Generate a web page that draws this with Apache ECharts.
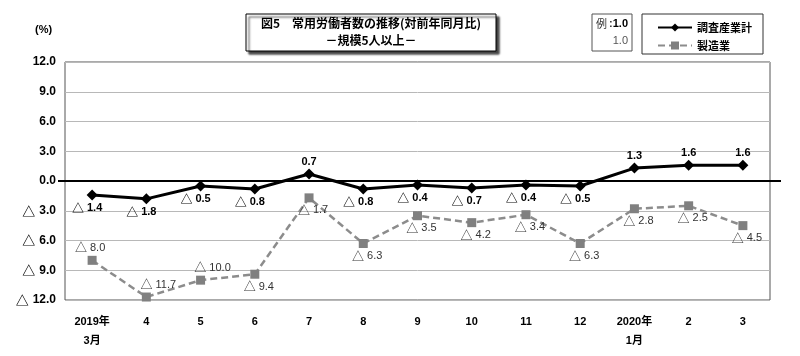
<!DOCTYPE html>
<html><head><meta charset="utf-8">
<script src="https://cdn.jsdelivr.net/npm/echarts@6/dist/echarts.min.js"></script>
<style>html,body{margin:0;padding:0;background:#fff}#c{width:800px;height:356px}</style>
</head><body><div id="c"></div>
<script>
const categories = ['2019年\n3月','4','5','6','7','8','9','10','11','12','2020年\n1月','2','3'];
const totalValues = [-1.4,-1.8,-0.5,-0.8,0.7,-0.8,-0.4,-0.7,-0.4,-0.5,1.3,1.6,1.6];
const mfgValues = [-8.0,-11.7,-10.0,-9.4,-1.7,-6.3,-3.5,-4.2,-3.4,-6.3,-2.8,-2.5,-4.5];
const mfgLabelAboveIdx = [0,1,2];
const seriesNames = ['調査産業計','製造業'];

const NUM = '"Liberation Sans Narrow","Arial Narrow","Liberation Sans",sans-serif';
const SANS = '"Liberation Sans",Arial,sans-serif';
const JP = '"Noto Sans CJK JP","Liberation Sans",sans-serif';
const fmtRich = v => (v < 0 ? '{t|△}' + Math.abs(v).toFixed(1) : v.toFixed(1));

const chart = echarts.init(document.getElementById('c'));
const totalData = totalValues.map(v => ({
  value: v,
  label: v >= 0 ? {position:'top', distance:1} : {position:'bottom', distance:2, offset:[-5,0]}
}));
const mfgData = mfgValues.map((v,i) => ({
  value: v,
  label: mfgLabelAboveIdx.includes(i)
    ? {position:'top', distance:2, offset:[i===0?-2:12,0]}
    : {position:'bottom', distance:2, offset:[4,0]}
}));

chart.setOption({
  animation:false,
  grid:{left:65,right:30,top:62,bottom:56,show:true,borderColor:'#555',borderWidth:1,backgroundColor:'transparent'},
  legend:{
    orient:'vertical', left:652, top:17, itemWidth:34, itemHeight:10, itemGap:7,
    textStyle:{fontFamily:JP,fontWeight:'bold',fontSize:11,color:'#000'},
    data:seriesNames
  },
  xAxis:{
    type:'category', data:categories, boundaryGap:true,
    axisLine:{show:false,onZero:false}, axisTick:{show:false},
    axisLabel:{fontFamily:NUM+',"Noto Sans CJK JP"',fontWeight:'bold',fontSize:11,color:'#000',margin:12,lineHeight:19,interval:0}
  },
  yAxis:{
    type:'value', min:-12, max:12, interval:3,
    axisLine:{show:false}, axisTick:{show:false},
    splitLine:{lineStyle:{color:'#b8b8b8',width:1}},
    axisLabel:{formatter:fmtRich,fontFamily:SANS,fontWeight:'bold',fontSize:12,color:'#000',margin:9,
      rich:{t:{fontFamily:JP,fontSize:13,fontWeight:'bold',color:'#000',padding:[0,4,0,0]}}}
  },
  graphic:[
    {type:'text',left:35,top:24,style:{text:'(%)',font:'bold 11px '+SANS,fill:'#000'}},
    {type:'rect',shape:{x:246,y:14,width:250,height:37},style:{fill:'#fff',stroke:'#000',lineWidth:1,shadowColor:'rgba(0,0,0,0.75)',shadowOffsetX:3,shadowOffsetY:3,shadowBlur:2}},
    {type:'text',x:371,y:17,style:{text:'図5　常用労働者数の推移(対前年同月比)',font:'bold 12px '+JP,fill:'#000',align:'center'}},
    {type:'text',x:371,y:34,style:{text:'－規模5人以上－',font:'bold 12px '+JP,fill:'#000',align:'center'}},
    {type:'rect',shape:{x:592,y:14,width:40,height:37},style:{fill:'#fff',stroke:'#555',lineWidth:1}},
    {type:'text',x:596,y:18,style:{text:'例',font:'11px '+JP,fill:'#333'}},
    {type:'text',x:609,y:18,style:{text:':',font:'bold 11px '+SANS,fill:'#333'}},
    {type:'text',x:628,y:18,style:{text:'1.0',font:'bold 11px '+NUM,fill:'#000',align:'right'}},
    {type:'text',x:628,y:35,style:{text:'1.0',font:'11px '+NUM,fill:'#555',align:'right'}},
    {type:'rect',shape:{x:642,y:14,width:121,height:40},style:{fill:'transparent',stroke:'#333',lineWidth:1},z:-1}
  ],
  series:[
    {
      name:seriesNames[0], type:'line', data:totalData, z:5,
      symbol:'diamond', symbolSize:11,
      lineStyle:{color:'#000',width:3},
      itemStyle:{color:'#000'},
      label:{show:true,formatter:p=>fmtRich(p.value),fontFamily:NUM,fontWeight:'bold',fontSize:11,color:'#000',
        rich:{t:{fontFamily:JP,fontSize:12,fontWeight:'bold',color:'#000',padding:[0,3,0,0]}}}
    },
    {
      name:seriesNames[1], type:'line', data:mfgData, z:4,
      symbol:'rect', symbolSize:9,
      lineStyle:{color:'#8c8c8c',width:2.5,type:[7,4]},
      itemStyle:{color:'#808080'},
      label:{show:true,formatter:p=>fmtRich(p.value),fontFamily:NUM,fontSize:11,color:'#333',
        rich:{t:{fontFamily:JP,fontSize:12,color:'#333',padding:[0,3,0,0]}}}
    }
  ]
});

const y0 = chart.convertToPixel({yAxisIndex:0}, 0);
chart.setOption({graphic:[{
  id:'zeroLine', type:'line', z:3,
  shape:{x1:58, y1:y0, x2:781, y2:y0},
  style:{stroke:'#000',lineWidth:2}
}]});
</script></body></html>
